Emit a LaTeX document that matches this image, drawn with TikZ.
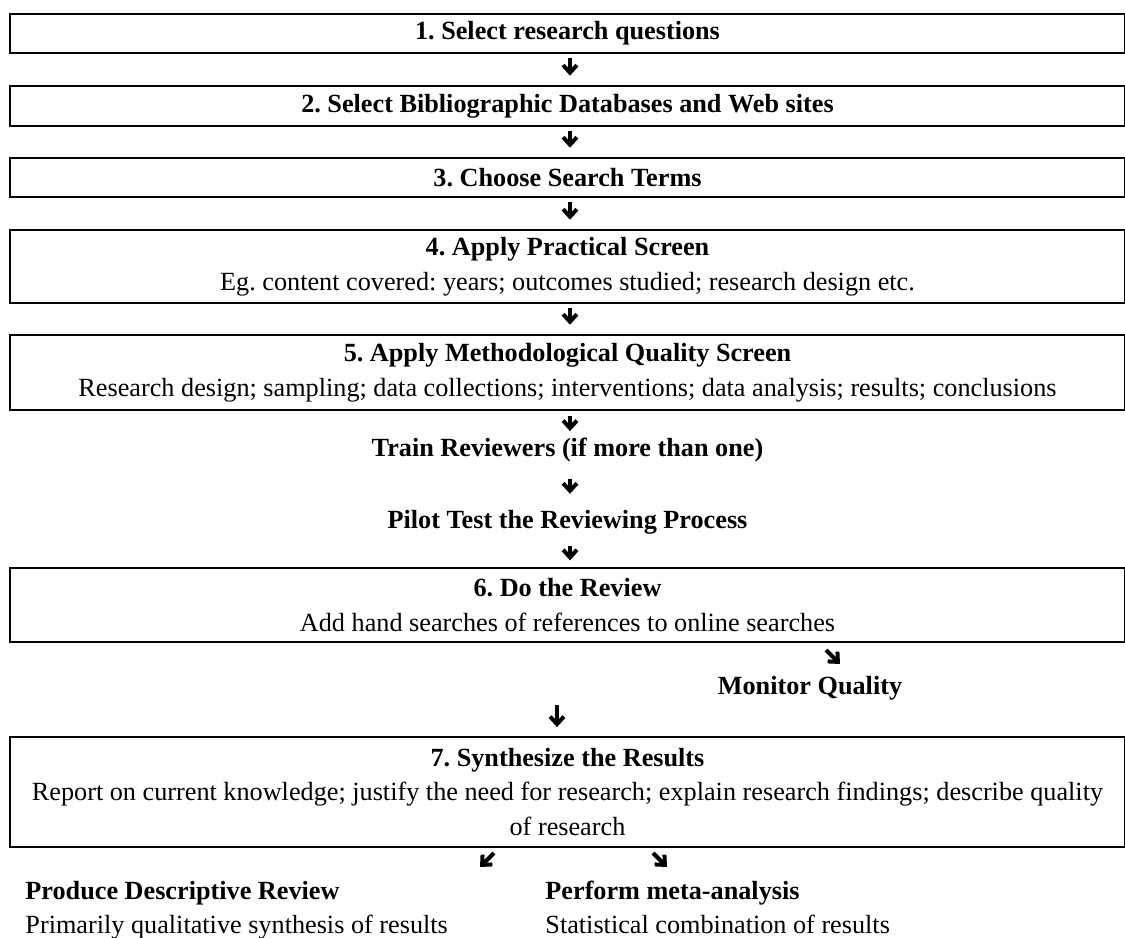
\documentclass[tikz,border=0pt]{standalone}
\usepackage{fontspec}
\setmainfont{Liberation Serif}
\usetikzlibrary{arrows.meta}
\tikzset{
  box/.style={draw, line width=0.9pt, minimum width=501.75pt, align=center, inner sep=0pt, font=\fontsize{11.8}{15.7}\selectfont\frenchspacing},
  txt/.style={inner sep=0pt, text height=8.5pt, text depth=2.5pt, font=\fontsize{11.8}{15.7}\selectfont\frenchspacing},
  arr/.style={line width=1.8pt, -{Straight Barb[length=3.4pt,width=6.2pt]}, shorten <=2pt, shorten >=4.2pt},
}
\begin{document}
\begin{tikzpicture}[x=0.45pt,y=-0.45pt]
\useasboundingbox (0,0) rectangle (1125,938);
% the steps
\node[box, minimum height=17.5pt] (s1) at (567.5,33.5) {\textbf{1. Select research questions}};
\node[box, minimum height=18pt] (s2) at (567.5,106) {\textbf{2. Select Bibliographic Databases and Web sites}};
\node[box, minimum height=17.5pt] (s3) at (567.5,177.5) {\textbf{3. Choose Search Terms}};
\node[box, minimum height=32.8pt] (s4) at (567.5,266.5) {\textbf{4. Apply Practical Screen}\\
  Eg. content covered: years; outcomes studied; research design etc.};
\node[box, minimum height=33.7pt] (s5) at (567.5,372.5) {\textbf{5. Apply Methodological Quality Screen}\\
  Research design; sampling; data collections; interventions; data analysis; results; conclusions};
\node[txt] (train) at (567.5,450) {\textbf{Train Reviewers (if more than one)}};
\node[txt] (pilot) at (567.5,522) {\textbf{Pilot Test the Reviewing Process}};
\node[box, minimum height=33.3pt] (s6) at (567.5,605) {\textbf{6. Do the Review}\\
  Add hand searches of references to online searches};
\node[txt] (mon) at (810,688) {\textbf{Monitor Quality}};
\node[box, minimum height=49.5pt] (s7) at (567.5,792) {\textbf{7. Synthesize the Results}\\
  Report on current knowledge; justify the need for research; explain research findings; describe quality\\
  of research};
\node[txt, anchor=west] (prod) at (25,893) {\textbf{Produce Descriptive Review}};
\node[txt, anchor=west] (prodtxt) at (25,927) {Primarily qualitative synthesis of results};
\node[txt, anchor=west] (meta) at (545,893) {\textbf{Perform meta-analysis}};
\node[txt, anchor=west] (metatxt) at (545,927) {Statistical combination of results};

% arrows
\coordinate (ax) at (570,0);
\draw[arr] (s1.south -| ax) -- (s2.north -| ax);
\draw[arr] (s2.south -| ax) -- (s3.north -| ax);
\draw[arr] (s3.south -| ax) -- (s4.north -| ax);
\draw[arr] (s4.south -| ax) -- (s5.north -| ax);
\draw[arr, shorten <=2.4pt, shorten >=2.8pt] (s5.south -| ax) -- (train.north -| ax);
\draw[arr, shorten <=7.2pt, shorten >=7pt] (train.south -| ax) -- (pilot.north -| ax);
\draw[arr, shorten <=5.2pt, shorten >=3pt] (pilot.south -| ax) -- (s6.north -| ax);
\coordinate (m7) at (557,705);
\draw[arr, shorten <=0pt, shorten >=4pt] (m7) -- (s7.north -| m7);
\coordinate (q1) at (826,650);
\coordinate (q2) at (840,664);
\draw[arr, shorten <=0pt, shorten >=0pt] (q1) -- (q2);
\coordinate (l1) at (494,853);
\coordinate (l2) at (480,867);
\draw[arr, shorten <=0pt, shorten >=0pt] (l1) -- (l2);
\coordinate (r1) at (653,853);
\coordinate (r2) at (667,867);
\draw[arr, shorten <=0pt, shorten >=0pt] (r1) -- (r2);
\end{tikzpicture}
\end{document}
